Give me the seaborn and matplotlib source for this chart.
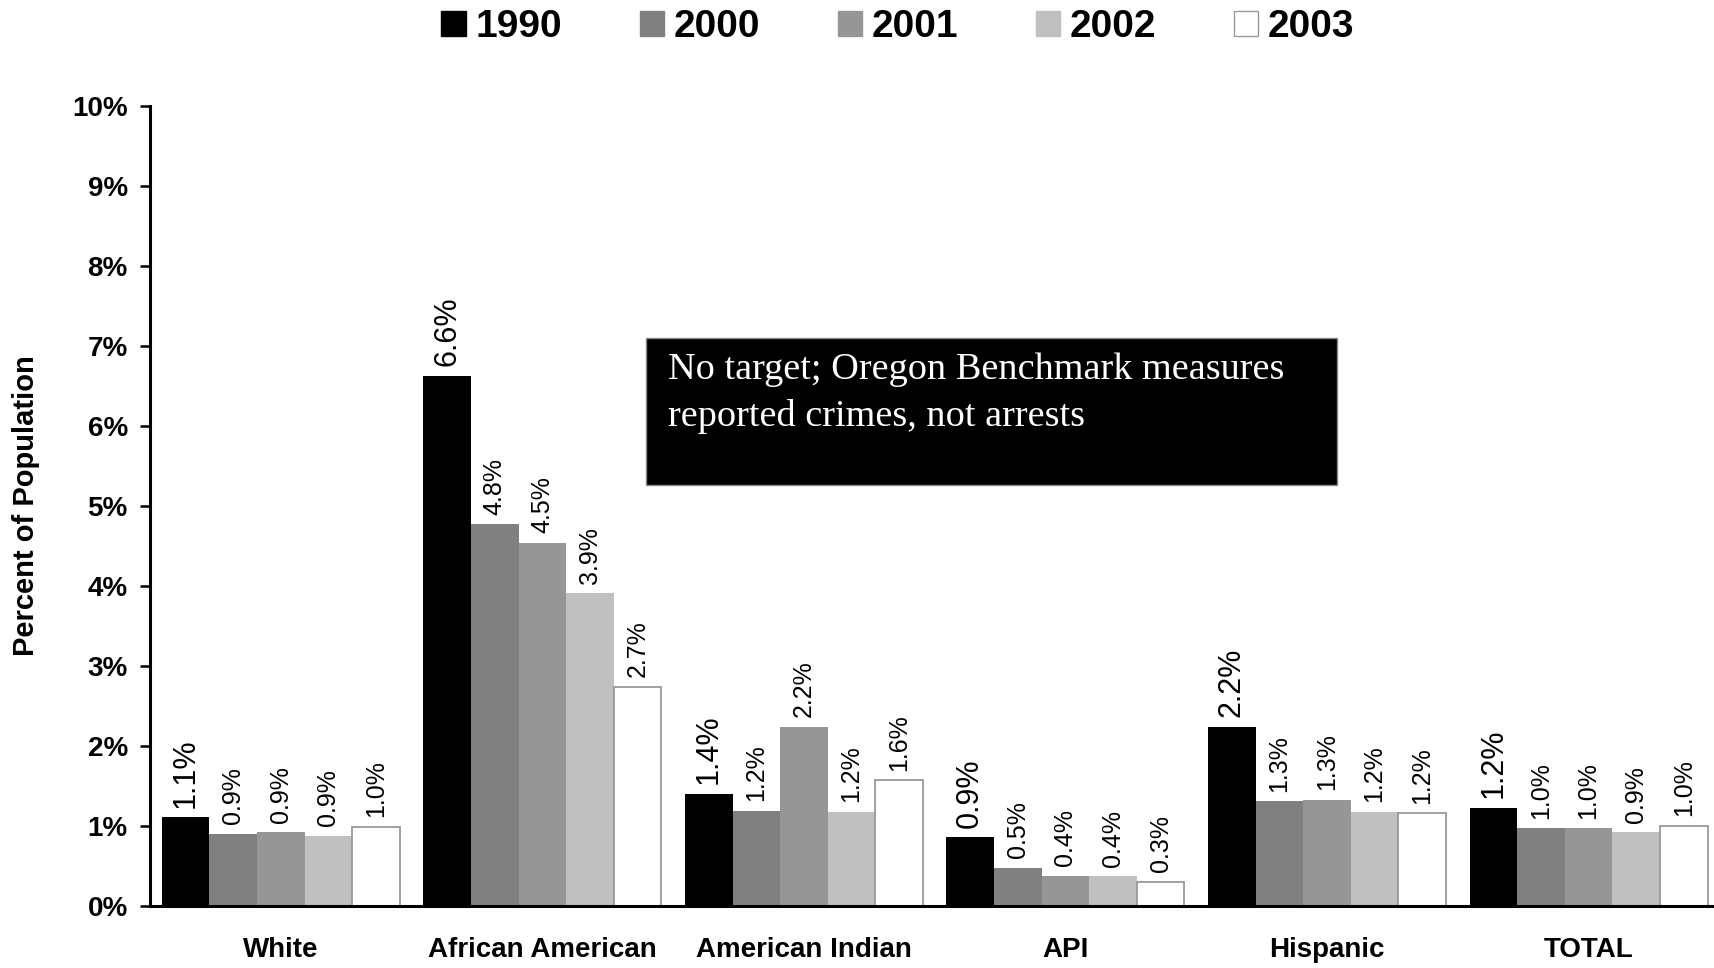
import matplotlib
matplotlib.use("Agg")
import matplotlib.pyplot as plt
from matplotlib.patches import Patch, Rectangle
import seaborn as sns
import pandas as pd

categories = ["White", "African American", "American Indian", "API", "Hispanic", "TOTAL"]
years = ["1990", "2000", "2001", "2002", "2003"]
v1990 = [1.11, 6.63, 1.40, 0.86, 2.24, 1.23]
v2000 = [0.90, 4.77, 1.19, 0.48, 1.31, 0.97]
v2001 = [0.92, 4.54, 2.24, 0.38, 1.33, 0.97]
v2002 = [0.88, 3.91, 1.18, 0.37, 1.18, 0.92]
v2003 = [0.99, 2.74, 1.57, 0.30, 1.16, 1.00]
yticks = [0, 1, 2, 3, 4, 5, 6, 7, 8, 9, 10]
colors = ["#000000", "#808080", "#969696", "#c0c0c0", "#ffffff"]
note = "No target; Oregon Benchmark measures\nreported crimes, not arrests"

series = [v1990, v2000, v2001, v2002, v2003]
rows = []
for y, vals in zip(years, series):
    for c, v in zip(categories, vals):
        rows.append({"Category": c, "Year": y, "Value": v})
df = pd.DataFrame(rows)

sns.set_style("white")
plt.rcParams["font.family"] = ["Liberation Sans", "DejaVu Sans"]
plt.rcParams["text.color"] = "black"
plt.rcParams["axes.labelcolor"] = "black"
plt.rcParams["xtick.color"] = "black"
plt.rcParams["ytick.color"] = "black"

fig = plt.figure(figsize=(17.15, 9.68), dpi=100)
ax = fig.add_axes([0.0875, 0.064, 0.915, 0.8265])

sns.barplot(data=df, x="Category", y="Value", hue="Year", order=categories,
            hue_order=years, palette=colors, saturation=1, width=0.91,
            linewidth=0, legend=False, ax=ax)

# style 2003 bars with a gray edge
for bar in ax.containers[4]:
    bar.set_edgecolor("#999999")
    bar.set_linewidth(1.3)

for i, cont in enumerate(ax.containers):
    vals = series[i]
    labels = [f"{v:.1f}%" for v in vals]
    ax.bar_label(cont, labels=labels, rotation=90, padding=7,
                 fontsize=22 if i == 0 else 18, color="#000000")

ax.set_xlim(-0.5, 5.5)
ax.set_ylim(0, 10)
ax.set_yticks(yticks)
ax.set_yticklabels([f"{t}%" for t in yticks], fontsize=20, fontweight="bold", color="black")
ax.set_xticks(range(len(categories)))
ax.set_xticklabels(categories, fontsize=20, fontweight="bold", color="black")
ax.tick_params(axis="y", length=7, width=1.8, pad=9, direction="out", left=True, colors="black")
ax.tick_params(axis="x", length=0, pad=22)
ax.set_xlabel("")
ax.set_ylabel("Percent of Population", fontsize=21, fontweight="bold", color="black")
ax.yaxis.set_label_coords(-0.070, 0.5)

for s in ["top", "right"]:
    ax.spines[s].set_visible(False)
for s in ["left", "bottom"]:
    ax.spines[s].set_color("#000000")
    ax.spines[s].set_linewidth(2.2)

# annotation box
fig.patches.append(Rectangle((0.3767, 0.499), 0.403, 0.152, transform=fig.transFigure,
                             facecolor="#000000", edgecolor="#888888", linewidth=1, zorder=5))
fig.text(0.3895, 0.636, note, color="white", fontsize=27.5, va="top", ha="left",
         family=["Liberation Serif", "DejaVu Serif"], linespacing=1.45, zorder=6)

handles = [Patch(facecolor=c, edgecolor=("#999999" if c == "#ffffff" else c), linewidth=1)
           for c in colors]
fig.legend(handles, years, loc="center", bbox_to_anchor=(0.5236, 0.972), ncol=5,
           frameon=False, prop={"family": "Liberation Sans", "weight": "bold", "size": 28},
           labelcolor="black",
           handlelength=0.62, handleheight=0.62, handletextpad=0.25, columnspacing=2.0,
           borderaxespad=0, borderpad=0)

fig.savefig("out.png", dpi=100)
